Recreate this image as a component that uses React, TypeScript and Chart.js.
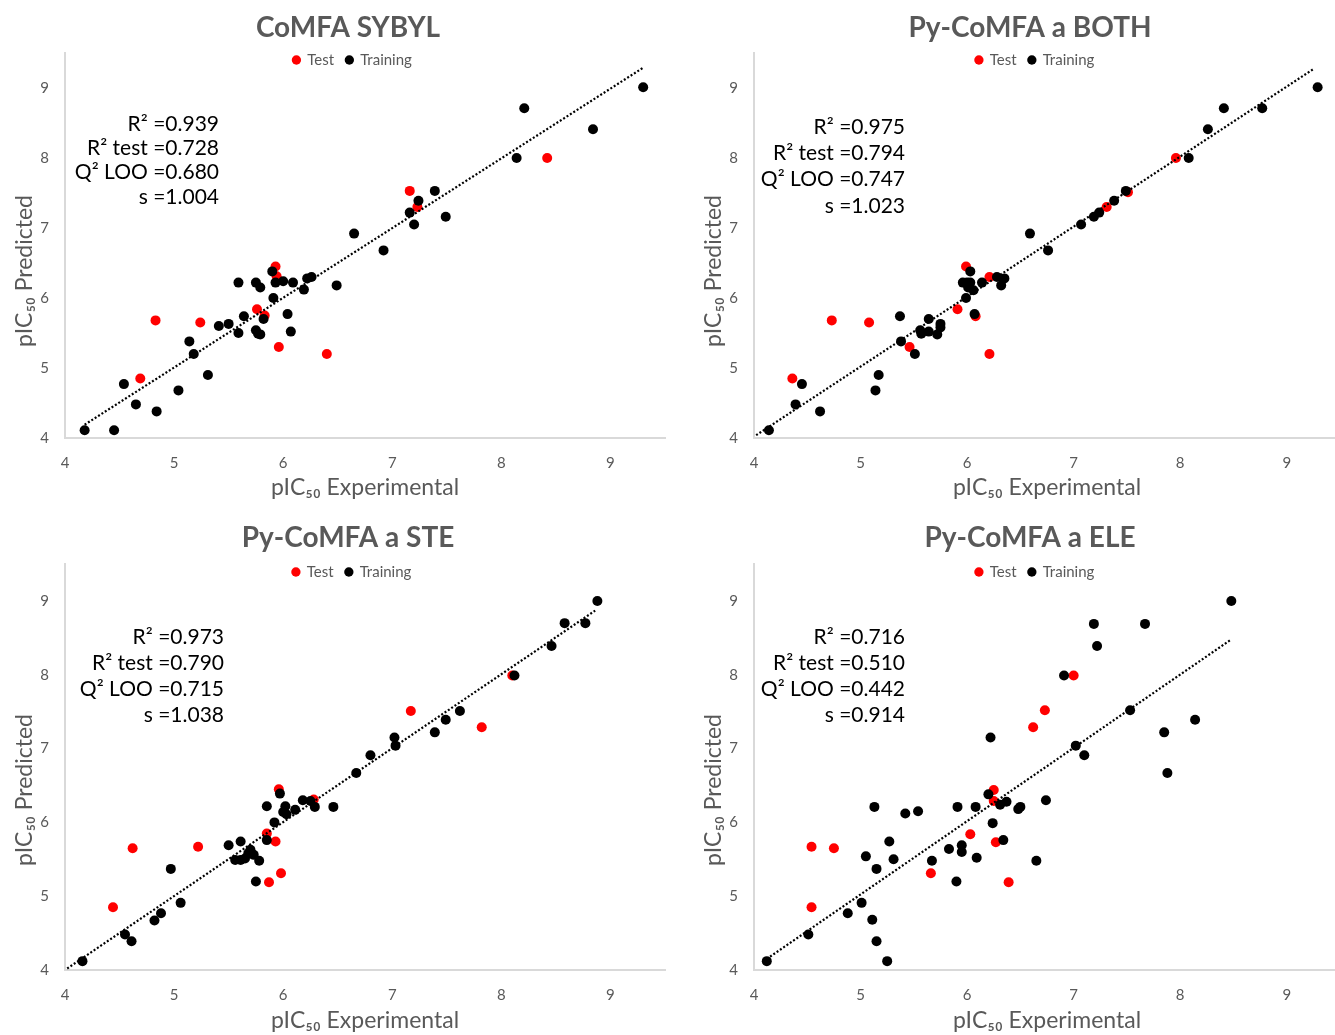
import React, { useEffect, useRef } from 'react';
import { Chart, registerables } from 'chart.js';

Chart.register(...registerables);

// ---------- data ----------
const xTickValues = [4, 5, 6, 7, 8, 9];
const yTickValues = [4, 5, 6, 7, 8, 9];

const panelTitles = ['CoMFA SYBYL', 'Py-CoMFA a BOTH', 'Py-CoMFA a STE', 'Py-CoMFA a ELE'];
const legendLabels = ['Test', 'Training'];
const xAxisTitle = 'pIC₅₀ Experimental';
const yAxisTitle = 'pIC₅₀ Predicted';

const sybylTraining: [number, number][] = [
  [4.18, 4.11], [4.45, 4.11], [4.54, 4.77], [4.65, 4.48], [4.84, 4.38], [5.04, 4.68], [5.31, 4.9],
  [5.14, 5.38], [5.18, 5.2], [5.41, 5.6], [5.5, 5.63], [5.59, 5.5], [5.64, 5.74], [5.59, 6.22],
  [5.75, 6.22], [5.79, 6.15], [5.9, 6.38], [5.93, 6.22], [6.0, 6.24], [6.09, 6.22], [6.19, 6.12],
  [6.22, 6.28], [6.26, 6.3], [6.49, 6.18], [5.91, 6.0], [5.82, 5.7], [6.04, 5.77], [6.07, 5.52],
  [5.75, 5.54], [5.77, 5.49], [5.79, 5.48], [6.65, 6.92], [6.92, 6.68], [7.16, 7.22], [7.2, 7.05],
  [7.24, 7.39], [7.39, 7.53], [7.49, 7.16], [8.14, 8.0], [8.21, 8.71], [8.84, 8.41], [9.3, 9.01],
];
const sybylTest: [number, number][] = [
  [4.69, 4.85], [4.83, 5.68], [5.24, 5.65], [5.76, 5.84], [5.83, 5.75], [5.93, 6.45], [5.94, 6.31],
  [5.96, 5.3], [6.4, 5.2], [7.16, 7.53], [7.23, 7.3], [8.42, 8.0],
];
const sybylTrend: [number, number][] = [[4.18, 4.19], [9.3, 9.29]];
const sybylStats = ['R² =0.939', 'R² test =0.728', 'Q² LOO =0.680', 's =1.004'];

const bothTraining: [number, number][] = [
  [4.14, 4.11], [4.39, 4.48], [4.62, 4.38], [4.45, 4.77], [5.14, 4.68], [5.17, 4.9], [5.37, 5.74],
  [5.38, 5.38], [5.51, 5.2], [5.56, 5.54], [5.57, 5.49], [5.64, 5.7], [5.64, 5.52], [5.72, 5.48],
  [5.75, 5.63], [5.75, 5.58], [5.99, 6.0], [6.07, 5.77], [6.03, 6.38], [5.96, 6.22], [6.0, 6.22],
  [6.03, 6.22], [6.01, 6.15], [6.06, 6.11], [6.14, 6.22], [6.28, 6.3], [6.35, 6.28], [6.32, 6.18],
  [6.59, 6.92], [6.76, 6.68], [7.07, 7.05], [7.19, 7.16], [7.24, 7.22], [7.38, 7.39], [7.49, 7.53],
  [8.08, 8.0], [8.26, 8.41], [8.41, 8.71], [8.77, 8.71], [9.29, 9.01],
];
const bothTest: [number, number][] = [
  [4.36, 4.85], [4.73, 5.68], [5.08, 5.65], [5.46, 5.3], [5.91, 5.84], [5.99, 6.45], [6.08, 5.74],
  [6.21, 6.3], [6.21, 5.2], [7.31, 7.3], [7.51, 7.51], [7.96, 8.0],
];
const bothTrend: [number, number][] = [[4.02, 4.04], [9.25, 9.27]];
const bothStats = ['R² =0.975', 'R² test =0.794', 'Q² LOO =0.747', 's =1.023'];

const steTraining: [number, number][] = [
  [4.16, 4.12], [4.55, 4.48], [4.61, 4.39], [4.82, 4.67], [4.88, 4.77], [5.06, 4.91], [4.97, 5.37],
  [5.5, 5.69], [5.61, 5.74], [5.56, 5.49], [5.61, 5.49], [5.65, 5.51], [5.68, 5.58], [5.7, 5.63],
  [5.73, 5.56], [5.78, 5.48], [5.75, 5.2], [5.85, 6.22], [5.92, 6.0], [5.85, 5.76], [5.97, 6.39],
  [6.02, 6.22], [6.0, 6.14], [6.03, 6.11], [6.11, 6.17], [6.18, 6.3], [6.25, 6.29], [6.29, 6.21],
  [6.46, 6.21], [6.67, 6.67], [6.8, 6.91], [7.02, 7.15], [7.03, 7.04], [7.39, 7.22], [7.49, 7.39],
  [7.62, 7.51], [8.12, 7.99], [8.46, 8.39], [8.58, 8.7], [8.77, 8.7], [8.88, 9.0],
];
const steTest: [number, number][] = [
  [4.44, 4.85], [4.62, 5.65], [5.22, 5.67], [5.85, 5.85], [5.93, 5.74], [5.96, 6.45], [5.98, 5.31],
  [5.87, 5.19], [6.28, 6.31], [7.17, 7.51], [7.82, 7.29], [8.1, 7.99],
];
const steTrend: [number, number][] = [[4.02, 4.02], [8.86, 8.87]];
const steStats = ['R² =0.973', 'R² test =0.790', 'Q² LOO =0.715', 's =1.038'];

const eleTraining: [number, number][] = [
  [4.12, 4.12], [4.51, 4.48], [4.88, 4.77], [5.01, 4.91], [5.11, 4.68], [5.15, 4.39], [5.25, 4.12],
  [5.05, 5.54], [5.15, 5.37], [5.27, 5.74], [5.31, 5.5], [5.13, 6.21], [5.42, 6.12], [5.54, 6.15],
  [5.67, 5.48], [5.83, 5.64], [5.95, 5.69], [5.95, 5.6], [5.9, 5.2], [5.91, 6.21], [6.08, 6.21],
  [6.09, 5.52], [6.2, 6.38], [6.31, 6.24], [6.37, 6.28], [6.24, 5.99], [6.34, 5.76], [6.48, 6.18],
  [6.5, 6.21], [6.65, 5.48], [6.22, 7.15], [6.74, 6.3], [7.02, 7.04], [7.1, 6.91], [6.91, 7.99],
  [7.19, 8.69], [7.22, 8.39], [7.53, 7.52], [7.67, 8.69], [7.85, 7.22], [7.88, 6.67], [8.14, 7.39],
  [8.48, 9.0],
];
const eleTest: [number, number][] = [
  [4.54, 5.67], [4.75, 5.65], [4.54, 4.85], [5.66, 5.31], [6.03, 5.84], [6.25, 6.44], [6.25, 6.29],
  [6.27, 5.73], [6.39, 5.19], [6.62, 7.29], [6.73, 7.52], [7.0, 7.99],
];
const eleTrend: [number, number][] = [[4.12, 4.15], [8.47, 8.47]];
const eleStats = ['R² =0.716', 'R² test =0.510', 'Q² LOO =0.442', 's =0.914'];

// ---------- layout / style ----------
const FONT = 'Lato';
const GREY = '#595959';

type PanelCfg = {
  title: string;
  training: [number, number][];
  test: [number, number][];
  trend: [number, number][];
  stats: string[];
  left: number; top: number; width: number; height: number;
  padLeft: number;
  titlePad: { top: number; bottom: number };
  xAxisH: number;
  xTitlePadBottom: number;
  legendPos: [number, number];
  statsRight: number;
  statsYs: number[];
  yTitlePos: [number, number];
};

const panels: PanelCfg[] = [
  {
    title: panelTitles[0], training: sybylTraining, test: sybylTest, trend: sybylTrend, stats: sybylStats,
    left: 0, top: 0, width: 670, height: 517, padLeft: 26,
    titlePad: { top: 11, bottom: 8.4 }, xAxisH: 79, xTitlePadBottom: 16,
    legendPos: [352.5, 60], statsRight: 219, statsYs: [124, 148, 172, 197], yTitlePos: [25, 271],
  },
  {
    title: panelTitles[1], training: bothTraining, test: bothTest, trend: bothTrend, stats: bothStats,
    left: 690, top: 0, width: 655, height: 517, padLeft: 25,
    titlePad: { top: 11, bottom: 8.4 }, xAxisH: 79, xTitlePadBottom: 16,
    legendPos: [345, 60], statsRight: 215, statsYs: [127, 153, 179, 206], yTitlePos: [24, 271],
  },
  {
    title: panelTitles[2], training: steTraining, test: steTest, trend: steTrend, stats: steStats,
    left: 0, top: 510, width: 670, height: 525, padLeft: 26,
    titlePad: { top: 11.2, bottom: 9.3 }, xAxisH: 65, xTitlePadBottom: 1,
    legendPos: [352, 62], statsRight: 224, statsYs: [127, 153, 179, 205], yTitlePos: [25, 280],
  },
  {
    title: panelTitles[3], training: eleTraining, test: eleTest, trend: eleTrend, stats: eleStats,
    left: 690, top: 510, width: 655, height: 525, padLeft: 25,
    titlePad: { top: 11.2, bottom: 9.3 }, xAxisH: 65, xTitlePadBottom: 1,
    legendPos: [345, 62], statsRight: 215, statsYs: [127, 153, 179, 205], yTitlePos: [24, 280],
  },
];

const toPts = (arr: [number, number][]) => arr.map(([x, y]) => ({ x, y }));

function Panel({ cfg }: { cfg: PanelCfg }) {
  const ref = useRef<HTMLCanvasElement>(null);

  useEffect(() => {
    const canvas = ref.current;
    if (!canvas) return;

    const legendFontSize = 15;

    // The legend sits on top of the plot area (as in the original), so it
    // reserves no layout height and is moved into place after layout.
    const legendShift = {
      id: 'legendShift',
      afterLayout(chart: any) {
        const lg = chart.legend;
        if (!lg) return;
        const pad = lg.options.labels.padding;
        const h = legendFontSize + pad * 2 + 10;
        const dx = cfg.legendPos[0] - (lg.left + lg.right) / 2;
        lg.left += dx;
        lg.right += dx;
        lg.top = cfg.legendPos[1] - pad - legendFontSize / 2;
        lg.bottom = lg.top + h;
        lg.height = h;
      },
    };

    const panelText = {
      id: 'panelText',
      afterDraw(chart: any) {
        const ctx = chart.ctx as CanvasRenderingContext2D;
        ctx.save();
        ctx.fillStyle = '#000';
        ctx.font = `21px ${FONT}`;
        ctx.textAlign = 'right';
        ctx.textBaseline = 'middle';
        cfg.stats.forEach((t, i) => ctx.fillText(t, cfg.statsRight, cfg.statsYs[i]));
        ctx.translate(cfg.yTitlePos[0], cfg.yTitlePos[1]);
        ctx.rotate(-Math.PI / 2);
        ctx.textAlign = 'center';
        ctx.fillStyle = GREY;
        ctx.font = `23px ${FONT}`;
        ctx.fillText(yAxisTitle, 0, 0);
        ctx.restore();
      },
    };

    const tickFont = { family: FONT, size: 15 };

    const chart = new Chart(canvas, {
      type: 'scatter',
      data: {
        datasets: [
          {
            label: 'Trend',
            data: toPts(cfg.trend),
            showLine: true,
            borderColor: '#000',
            borderWidth: 2.2,
            borderDash: [2, 2],
            pointRadius: 0,
            order: 0,
          } as any,
          {
            label: legendLabels[1],
            data: toPts(cfg.training),
            backgroundColor: '#000',
            borderColor: '#000',
            pointRadius: 5,
            borderWidth: 0,
            order: 1,
          },
          {
            label: legendLabels[0],
            data: toPts(cfg.test),
            backgroundColor: '#ff0000',
            borderColor: '#ff0000',
            pointRadius: 5,
            borderWidth: 0,
            order: 2,
          },
        ],
      },
      options: {
        responsive: false,
        animation: false,
        events: [],
        layout: { padding: { left: cfg.padLeft, right: 0, top: 0, bottom: 0 } },
        plugins: {
          tooltip: { enabled: false },
          title: {
            display: true,
            text: cfg.title,
            color: GREY,
            font: { family: FONT, size: 28, weight: 'bold', lineHeight: 1.2 },
            padding: cfg.titlePad,
          },
          legend: {
            display: true,
            position: 'top',
            align: 'center',
            maxHeight: 0.001,
            labels: {
              usePointStyle: true,
              boxWidth: 6.6,
              boxHeight: 6.6,
              padding: 12,
              color: GREY,
              font: { family: FONT, size: legendFontSize },
              filter: (item: any) => item.text !== 'Trend',
              sort: (a: any, b: any) => b.datasetIndex - a.datasetIndex,
            },
          },
        },
        scales: {
          x: {
            type: 'linear',
            min: 4,
            max: 9.5,
            grid: { display: false, drawTicks: false },
            border: { display: true, color: '#d9d9d9', width: 2 },
            ticks: { color: GREY, font: tickFont, padding: 16, maxRotation: 0, autoSkip: false },
            afterBuildTicks: (s: any) => { s.ticks = xTickValues.map((v) => ({ value: v })); },
            afterFit: (s: any) => { s.height = cfg.xAxisH; },
            title: {
              display: true,
              text: xAxisTitle,
              color: GREY,
              font: { family: FONT, size: 23, lineHeight: 1.2 },
              padding: { top: 0, bottom: cfg.xTitlePadBottom },
            },
          },
          y: {
            type: 'linear',
            min: 4,
            max: 9.5,
            grid: { display: false, drawTicks: false },
            border: { display: true, color: '#d9d9d9', width: 2 },
            ticks: { color: GREY, font: tickFont, padding: 16 },
            afterBuildTicks: (s: any) => { s.ticks = yTickValues.map((v) => ({ value: v })); },
            afterFit: (s: any) => { s.width = 39; },
          },
        },
      },
      plugins: [legendShift, panelText],
    } as any);

    return () => chart.destroy();
  }, [cfg]);

  return (
    <canvas
      ref={ref}
      width={cfg.width}
      height={cfg.height}
      style={{ position: 'absolute', left: cfg.left, top: cfg.top, width: cfg.width, height: cfg.height }}
    />
  );
}

export default function App() {
  return (
    <div
      style={{
        position: 'fixed',
        left: 0,
        top: 0,
        width: 1335,
        height: 1035,
        overflow: 'hidden',
        background: '#fff',
      }}
    >
      {panels.map((p, i) => (
        <Panel key={i} cfg={p} />
      ))}
    </div>
  );
}
